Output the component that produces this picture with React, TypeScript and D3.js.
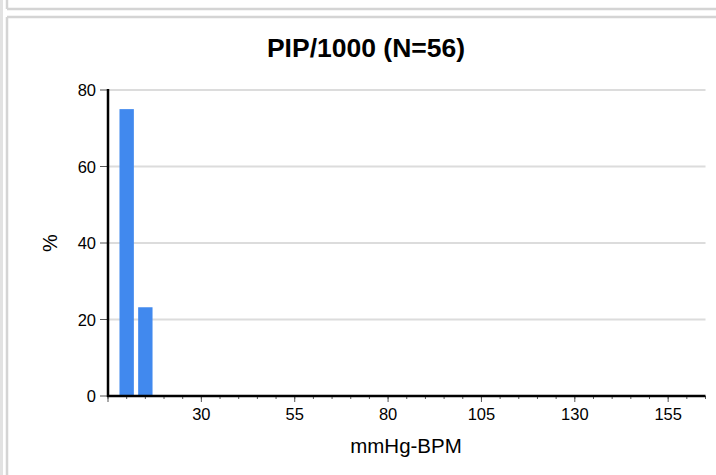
import React from "react";
import * as d3 from "d3";

const title = "PIP/1000 (N=56)";
const xLabel = "mmHg-BPM";
const yLabel = "%";
const binCenters = [10, 15];
const binValues = [75, 23.2];
const xMajorTicks = [30, 55, 80, 105, 130, 155];
const yTicks = [0, 20, 40, 60, 80];
const xDomain: [number, number] = [5, 165];
const yDomain: [number, number] = [0, 80];
const binWidth = 5;

export default function App() {
  const W = 716, H = 475;
  const left = 108, right = 705.5, top = 90, bottom = 396;
  const x = d3.scaleLinear().domain(xDomain).range([left, right]);
  const y = d3.scaleLinear().domain(yDomain).range([bottom, top]);
  const minorTicks = d3.range(xDomain[0], xDomain[1] + 0.01, 5);
  const barW = (x(binWidth) - x(0)) * 0.77;
  const font = "Arial, 'Liberation Sans', sans-serif";
  return (
    <svg width={W} height={H} style={{ position: "absolute", left: 0, top: 0, background: "#fff" }} fontFamily={font}>
      {/* panel frames */}
      <rect x={0} y={0} width={3} height={H} fill="#e2e2e2" />
      <line x1={7} y1={0} x2={7} y2={9} stroke="#d4d4d4" strokeWidth={2.5} />
      <line x1={7} y1={9} x2={W} y2={9} stroke="#d4d4d4" strokeWidth={2.5} />
      <line x1={7} y1={17} x2={W} y2={17} stroke="#d4d4d4" strokeWidth={2.5} />
      <line x1={7} y1={17} x2={7} y2={H} stroke="#d4d4d4" strokeWidth={2.5} />
      <text x={366} y={57} textAnchor="middle" fontSize={26.5} fontWeight="bold" fill="#000">{title}</text>
      {/* grid */}
      {yTicks.filter(t => t > 0).map(t => (
        <line key={t} x1={left} x2={right} y1={y(t)} y2={y(t)} stroke="#dcdcdc" strokeWidth={2} />
      ))}
      {/* bars */}
      {binCenters.map((c, i) => (
        <rect key={i} x={x(c) - barW / 2} y={y(binValues[i])} width={barW} height={bottom - y(binValues[i])} fill="#4189ee" />
      ))}
      {/* y axis */}
      {yTicks.map(t => (
        <g key={t}>
          <line x1={100} x2={left} y1={y(t)} y2={y(t)} stroke="#555" strokeWidth={1} />
          <text x={96} y={y(t) + 6} textAnchor="end" fontSize={16.5} fill="#000">{t}</text>
        </g>
      ))}
      <line x1={left} x2={left} y1={top - 1} y2={bottom + 1} stroke="#000" strokeWidth={2.5} />
      {/* x axis */}
      {minorTicks.map(t => (
        <line key={"m" + t} x1={x(t)} x2={x(t)} y1={bottom} y2={bottom + 3} stroke="#555" strokeWidth={1} />
      ))}
      {[xDomain[0], ...xMajorTicks].map(t => (
        <line key={"M" + t} x1={x(t)} x2={x(t)} y1={bottom} y2={bottom + 6} stroke="#555" strokeWidth={1} />
      ))}
      {xMajorTicks.map(t => (
        <text key={"l" + t} x={x(t)} y={420} textAnchor="middle" fontSize={16.5} fill="#000">{t}</text>
      ))}
      <line x1={left - 1} x2={right} y1={bottom} y2={bottom} stroke="#000" strokeWidth={2.5} />
      <text x={406} y={453} textAnchor="middle" fontSize={20.5} fill="#000">{xLabel}</text>
      <text transform={`translate(57,243) rotate(-90)`} textAnchor="middle" fontSize={20} fill="#000">{yLabel}</text>
    </svg>
  );
}
